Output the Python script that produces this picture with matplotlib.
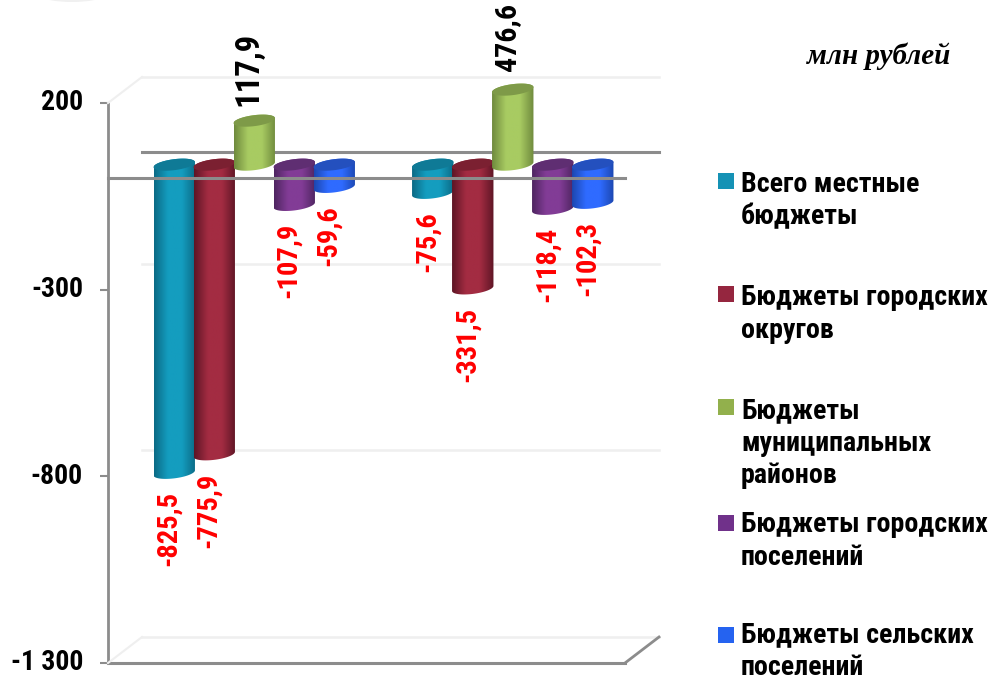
import numpy as np
import matplotlib
matplotlib.use("Agg")
import matplotlib.pyplot as plt
from matplotlib.path import Path
from matplotlib.patches import Rectangle, Ellipse, Polygon
from matplotlib.transforms import ScaledTranslation
from matplotlib.colors import LinearSegmentedColormap

series_names = ["Всего местные\nбюджеты", "Бюджеты городских\nокругов",
                "Бюджеты\nмуниципальных\nрайонов", "Бюджеты городских\nпоселений",
                "Бюджеты сельских\nпоселений"]
# Heights as drawn in the picture; the second green bar is drawn shorter than its label says.
group1_values = [-825.5, -775.9, 117.9, -107.9, -59.6]
group2_values = [-75.6, -331.5, 201.0, -118.4, -102.3]
group1_labels = ["-825,5", "-775,9", "117,9", "-107,9", "-59,6"]
group2_labels = ["-75,6", "-331,5", "476,6", "-118,4", "-102,3"]
tick_values = [-1300, -800, -300, 200]
tick_labels = ["-1 300", "-800", "-300", "200"]

main_colors = ["#149DBF", "#A32C42", "#A8CB62", "#823C96", "#2F6BFF"]
edge_colors = ["#0B6A85", "#5E1525", "#6F8A3D", "#4E2560", "#1C47B0"]
cap_colors = ["#0F7A96", "#7B2031", "#7E9A48", "#5F2E72", "#2450BE"]
swatch_colors = ["#1592B5", "#95263F", "#92B04C", "#70318A", "#2563F0"]

W, H = 991, 679
GRAY = "#8C8C8C"
LIGHT = "#EFEFEF"
FONT = ["Roboto Condensed", "PT Sans Narrow", "Liberation Sans"]

fig = plt.figure(figsize=(W / 100, H / 100), dpi=100)
ax = fig.add_axes([108 / W, 1 - 663 / H, (625 - 108) / W, (663 - 103) / H])
ax.set_facecolor("none")
XL, YL = (0, 2), (-1300, 200)
ax.set_xlim(*XL)
ax.set_ylim(*YL)
PX_X = (625 - 108) / 2
PX_Y = (663 - 103) / 1500


def shift(px, py):
    return ax.transData + ScaledTranslation(px / 100, py / 100, fig.dpi_scale_trans)


back = shift(34, 26)
mid = shift(17, 13)

# wall gridlines
for v in tick_values:
    ax.plot(XL, [v, v], color=LIGHT, lw=1.8, transform=back, clip_on=False, zorder=1)
# side diagonals (front point to back point)
for v, col in [(200, LIGHT), (-1300, LIGHT)]:
    x0, y0 = ax.transData.transform((0, v))
    x1, y1 = back.transform((0, v))
    fig.add_artist(plt.Line2D([x0 / W, x1 / W], [y0 / H, y1 / H], color=col, lw=1.5, zorder=1))
x0, y0 = ax.transData.transform((2, -1300))
x1, y1 = back.transform((2, -1300))
fig.add_artist(plt.Line2D([x0 / W, x1 / W], [y0 / H, y1 / H], color=GRAY, lw=2, zorder=2))

# zero plane, back edge
ax.plot(XL, [0, 0], color=GRAY, lw=2.2, transform=back, clip_on=False, zorder=2)

cmaps = [LinearSegmentedColormap.from_list(f"c{i}", [edge_colors[i], main_colors[i], main_colors[i], edge_colors[i]])
         for i in range(5)]
STEP = 40 / PX_X
RX = 20.7 / PX_X
RY = 5.5 / PX_Y
TILT = 2.5 / PX_Y
grad = np.linspace(0, 1, 128).reshape(1, -1)
t_low = np.linspace(np.pi, 2 * np.pi, 40)
t_up = np.linspace(0, np.pi, 40)
t_full = np.linspace(0, 2 * np.pi, 80)


def ell(cx, cy, t):
    return np.column_stack([cx + RX * np.cos(t), cy + RY * np.sin(t) + TILT * np.cos(t)])


def cylinder(cx, val, idx, z):
    top, bot = max(val, 0), min(val, 0)
    body = np.vstack([ell(cx, bot, t_low), ell(cx, top, t_up)])
    path = Path(np.vstack([body, body[:1]]), closed=True)
    im = ax.imshow(grad, cmap=cmaps[idx], aspect="auto", extent=(cx - RX, cx + RX, bot - 2 * RY, top + 2 * RY),
                   transform=mid, zorder=z, interpolation="bilinear")
    im.set_clip_box(fig.bbox)
    im.set_clip_path(path, mid)
    ax.add_patch(Polygon(ell(cx, top, t_full), closed=True, facecolor=cap_colors[idx], edgecolor="none",
                         transform=mid, zorder=z + 0.1, clip_on=False))


z = 3
for center, vals, labs, pos_gap, pos_size in [(0.5, group1_values, group1_labels, 10.5, 23.5),
                                              (1.5, group2_values, group2_labels, 13.7, 21.5)]:
    for i, (v, lab) in enumerate(zip(vals, labs)):
        cx = center + (i - 2) * STEP
        cylinder(cx, v, i, z)
        z += 1
        ax.set_xlim(*XL)
        ax.set_ylim(*YL)
        px, py = mid.transform((cx, v))
        if v < 0:
            ax.annotate(lab, xy=(px, py), xycoords="figure pixels", xytext=(-4, -13), textcoords="offset points",
                        rotation=90, ha="center", va="top", color="#FF0000", fontsize=20.5, fontweight="bold",
                        family=FONT, zorder=50, annotation_clip=False)
        else:
            ax.annotate(lab, xy=(px, py), xycoords="figure pixels", xytext=(-4.3, pos_gap), textcoords="offset points",
                        rotation=90, ha="center", va="bottom", color="black", fontsize=pos_size, fontweight="bold",
                        family=FONT, zorder=50, annotation_clip=False)

# zero plane, front edge: passes in front of the bars
ax.plot(XL, [0, 0], color=GRAY, lw=2.2, clip_on=False, zorder=40)

ax.set_xlim(*XL)
ax.set_ylim(*YL)
ax.set_xticks([])
ax.set_yticks(tick_values)
ax.set_yticklabels(tick_labels, fontsize=20, fontweight="bold", family=FONT)
ax.tick_params(axis="y", length=6, width=1.5, color=GRAY, pad=12)
for lab in ax.get_yticklabels():
    lab.set_verticalalignment("center")
for s in ["top", "right"]:
    ax.spines[s].set_visible(False)
ax.spines["left"].set_color(GRAY)
ax.spines["left"].set_linewidth(2)
ax.spines["bottom"].set_color(GRAY)
ax.spines["bottom"].set_linewidth(2.2)
ax.patch.set_visible(False)

# unit caption
fig.text(950 / W, 1 - 56 / H, "млн рублей", ha="right", va="center", family="Liberation Serif",
         fontsize=21, fontweight="bold", style="italic")

# legend
swatch_tops = [173, 286, 399, 515, 627]
text_tops = [171, 284, 397, 511, 621]
for name, col, sy, ty in zip(series_names, swatch_colors, swatch_tops, text_tops):
    fig.add_artist(Rectangle((718 / W, 1 - (sy + 16) / H), 16 / W, 16 / H, transform=fig.transFigure,
                             facecolor=col, edgecolor="none"))
    fig.text(741 / W, 1 - ty / H, name, ha="left", va="top", fontsize=20.2, fontweight="bold", family=FONT,
             linespacing=1.27)

# faint shadow at the top-left edge
fig.add_artist(Ellipse((72 / W, 1 + 4 / H), 60 / W, 12 / H, transform=fig.transFigure, facecolor="#F0F0F0",
                       edgecolor="none"))

fig.savefig("out.png", dpi=100)
